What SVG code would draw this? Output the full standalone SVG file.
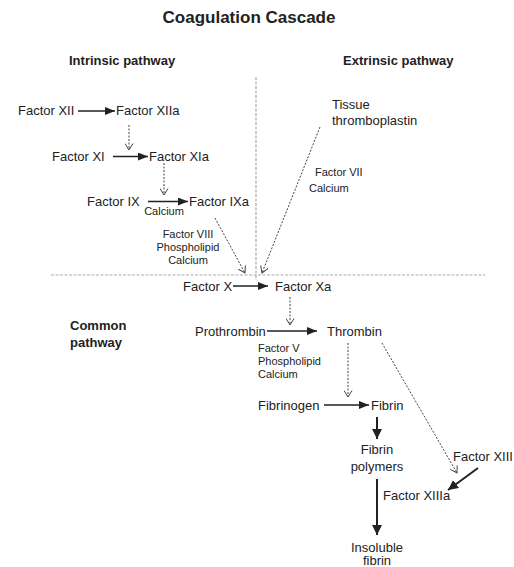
<svg xmlns="http://www.w3.org/2000/svg" width="514" height="567" viewBox="0 0 514 567">
<style>
text{font-family:"Liberation Sans",Arial,sans-serif;fill:#222}
.t{font-size:17px;font-weight:bold}
.h{font-size:13px;font-weight:bold}
.n{font-size:13px}
.s{font-size:11px}
.sol{stroke:#222;stroke-width:1.6;fill:none;marker-end:url(#ah)}
.big{stroke:#222;stroke-width:2;fill:none;marker-end:url(#ahb)}
.dot{stroke:#444;stroke-width:1;stroke-dasharray:2 1.5;fill:none;marker-end:url(#ao)}
.div{stroke:#aaa;stroke-width:1.2;stroke-dasharray:3 1.5;fill:none}
</style>
<defs>
<marker id="ah" markerUnits="userSpaceOnUse" markerWidth="10" markerHeight="8" refX="10" refY="4" orient="auto"><path d="M0,0 L10,4 L0,8 z" fill="#222"/></marker>
<marker id="ahb" markerUnits="userSpaceOnUse" markerWidth="10" markerHeight="10" refX="10" refY="5" orient="auto"><path d="M0,0 L10,5 L0,10 z" fill="#222"/></marker>
<marker id="ao" markerUnits="userSpaceOnUse" markerWidth="8" markerHeight="9" refX="7" refY="4.5" orient="auto"><path d="M0.5,0.5 L7,4.5 L0.5,8.5" fill="none" stroke="#444" stroke-width="1"/></marker>
</defs>
<rect width="514" height="567" fill="#fff"/>
<g id="headings">
<text class="t" x="249" y="23" text-anchor="middle">Coagulation Cascade</text>
<text class="h" x="69" y="65">Intrinsic pathway</text>
<text class="h" x="343" y="65">Extrinsic pathway</text>
<text class="h" x="70" y="330">Common</text>
<text class="h" x="70" y="346.5">pathway</text>
</g>
<g id="dividers">
<line class="div" x1="256" y1="77" x2="256" y2="280"/>
<line class="div" x1="51" y1="275" x2="485" y2="275"/>
</g>
<g id="connectors">
<line class="sol" x1="78" y1="111" x2="115" y2="111"/>
<line class="dot" x1="129" y1="125" x2="129" y2="150"/>
<line class="sol" x1="113" y1="156.5" x2="148" y2="156.5"/>
<line class="dot" x1="164" y1="163" x2="164" y2="195"/>
<line class="sol" x1="148" y1="201.5" x2="188" y2="201.5"/>
<line class="dot" x1="215" y1="218" x2="245" y2="273"/>
<line class="dot" x1="320" y1="127" x2="262" y2="273"/>
<line class="sol" x1="233" y1="286" x2="268" y2="286"/>
<line class="dot" x1="290" y1="297" x2="290" y2="325"/>
<line class="sol" x1="267" y1="331" x2="317" y2="331"/>
<line class="dot" x1="348" y1="343" x2="348" y2="397"/>
<line class="dot" x1="382" y1="343" x2="457" y2="473"/>
<line class="sol" x1="324" y1="405" x2="369" y2="405"/>
<line class="big" x1="377" y1="417" x2="377" y2="439"/>
<line class="big" x1="377" y1="479" x2="377" y2="535"/>
<line class="big" x1="478" y1="468" x2="448" y2="490"/>
</g>
<g id="intrinsic">
<g id="n-f12"><text class="n" x="18" y="115">Factor XII</text></g>
<g id="n-f12a"><text class="n" x="116" y="115">Factor XIIa</text></g>
<g id="n-f11"><text class="n" x="52" y="161">Factor XI</text></g>
<g id="n-f11a"><text class="n" x="149" y="161">Factor XIa</text></g>
<g id="n-f9"><text class="n" x="87" y="206">Factor IX</text></g>
<g id="n-cal1"><text class="s" x="164" y="215" text-anchor="middle">Calcium</text></g>
<g id="n-f9a"><text class="n" x="189" y="206">Factor IXa</text></g>
<g id="n-f8"><text class="s" x="188" y="238" text-anchor="middle">Factor VIII</text><text class="s" x="188" y="251" text-anchor="middle">Phospholipid</text><text class="s" x="188" y="264" text-anchor="middle">Calcium</text></g>
</g>
<g id="extrinsic">
<g id="n-tissue"><text class="n" x="332" y="109">Tissue</text><text class="n" x="332" y="125">thromboplastin</text></g>
<g id="n-f7"><text class="s" x="315" y="176">Factor VII</text><text class="s" x="309" y="192">Calcium</text></g>
</g>
<g id="common">
<g id="n-f10"><text class="n" x="183" y="291">Factor X</text></g>
<g id="n-f10a"><text class="n" x="275" y="291">Factor Xa</text></g>
<g id="n-prothrombin"><text class="n" x="195" y="335.5">Prothrombin</text></g>
<g id="n-thrombin"><text class="n" x="327" y="335.5">Thrombin</text></g>
<g id="n-f5"><text class="s" x="258" y="351.5">Factor V</text><text class="s" x="258" y="364.5">Phospholipid</text><text class="s" x="258" y="377.5">Calcium</text></g>
<g id="n-fibrinogen"><text class="n" x="258" y="409.5">Fibrinogen</text></g>
<g id="n-fibrin"><text class="n" x="371" y="409.5">Fibrin</text></g>
<g id="n-polymers"><text class="n" x="377" y="454" text-anchor="middle">Fibrin</text><text class="n" x="377" y="470.5" text-anchor="middle">polymers</text></g>
<g id="n-f13"><text class="n" x="453" y="460.5">Factor XIII</text></g>
<g id="n-f13a"><text class="n" x="383" y="500">Factor XIIIa</text></g>
<g id="n-insoluble"><text class="n" x="377" y="551.5" text-anchor="middle">Insoluble</text><text class="n" x="377" y="565" text-anchor="middle">fibrin</text></g>
</g>
</svg>
